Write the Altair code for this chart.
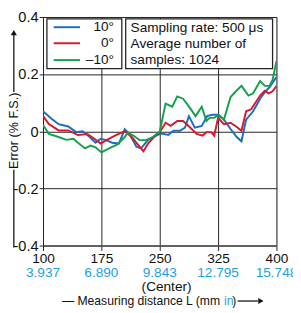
import altair as alt
import pandas as pd

# ---- data ----
blue_x = [100, 111, 120, 132.5, 142.5, 151, 160, 167.5, 174, 180, 189, 197.5, 205, 211, 220, 226, 235, 242.5, 250, 255,
          261, 267.5, 276, 282.5, 287.5, 295, 304, 311, 317.5, 324, 332.5, 341, 349, 355, 361, 370, 379, 385, 391, 397.5, 400]
blue_y = [0.07, 0.044, 0.025, 0.017, -0.003, 0, -0.02, -0.04, -0.026, -0.03, -0.04, -0.043, 0.007, -0.009, -0.054,
          -0.06, -0.03, -0.02, -0.009, -0.009, -0.013, 0.002, 0.002, 0.013, 0.053, 0.013, 0.019, 0.053, 0.058, 0.058,
          0.041, 0.008, -0.02, -0.035, 0.041, 0.07, 0.114, 0.137, 0.154, 0.18, 0.19]

red_x = [100, 107.5, 120, 132.5, 145, 157.5, 166, 174, 185, 195, 205, 214, 222.5, 229, 235, 242.5, 250, 257.5, 264,
         272.5, 280, 289, 297.5, 305, 310, 316, 320, 325, 332.5, 341, 349, 355, 361, 367.5, 379, 385, 390, 395, 400]
red_y = [0.054, 0.025, 0.003, 0.003, -0.013, -0.01, -0.026, -0.043, -0.026, -0.012, 0.0, -0.02, -0.048, -0.07, -0.043,
         -0.02, -0.003, 0.03, 0.019, 0.036, 0.036, 0.013, -0.009, -0.015, -0.003, -0.003, -0.015, 0.047, 0.025, 0.03,
         0.015, 0.002, 0.07, 0.077, 0.125, 0.142, 0.133, 0.14, 0.158]

green_x = [100, 107.5, 120, 130, 139, 145, 154, 161, 167.5, 175, 185, 195, 205, 209, 216, 224, 232.5, 241, 250, 257.5,
           266, 272.5, 280, 289, 296, 304, 310, 314, 320, 326, 332.5, 341, 348, 355, 364, 370, 379, 385, 391, 395, 400]
green_y = [0.022, -0.009, -0.02, -0.03, -0.026, -0.04, -0.06, -0.05, -0.056, -0.074, -0.06, -0.047, -0.02, -0.005,
           -0.015, -0.031, -0.031, -0.02, -0.001, 0.097, 0.086, 0.122, 0.114, 0.081, 0.053, 0.086, 0.036, 0.047, 0.047,
           0.058, 0.041, 0.12, 0.14, 0.159, 0.125, 0.133, 0.176, 0.159, 0.159, 0.18, 0.245]

series_names = ["10°", "0°", "–10°"]
series_colors = ["#1a6dc0", "#d7192c", "#14a04c"]

mm_ticks = [100, 175, 250, 325, 400]
inch_labels = ["3.937", "6.890", "9.843", "12.795", "15.748"]
y_ticks = [-0.4, -0.2, 0, 0.2, 0.4]

info_lines = ["Sampling rate: 500 μs", "Average number of", "samples: 1024"]

# ---- tables ----
rows = []
for name, xs, ys in zip(series_names, [blue_x, red_x, green_x], [blue_y, red_y, green_y]):
    for i, (xv, yv) in enumerate(zip(xs, ys)):
        rows.append({"series": name, "x": xv, "y": yv, "order": i})
df = pd.DataFrame(rows)

W, H = 240, 235
FONT = "Liberation Sans"

xscale = alt.Scale(domain=[100, 400], nice=False, zero=False)
yscale = alt.Scale(domain=[-0.4, 0.4], nice=False, zero=False)
cscale = alt.Scale(domain=series_names, range=series_colors)

lines = alt.Chart(df).mark_line(strokeWidth=2, clip=True).encode(
    x=alt.X("x:Q", scale=xscale, axis=alt.Axis(
        values=mm_ticks, format="d", title=None, grid=True, gridColor="#222", gridWidth=1,
        domainColor="#555", domainWidth=1.5, tickColor="#222", tickSize=5, labelPadding=1,
        labelFlush=False, labelOverlap=False,
        labelFontSize=14, labelColor="#111", labelFont=FONT)),
    y=alt.Y("y:Q", scale=yscale, axis=alt.Axis(
        values=y_ticks, title=None, grid=True, gridColor="#222", gridWidth=1,
        domainColor="#222", tickColor="#222", tickSize=4, labelPadding=1,
        labelFlush=False, labelOverlap=False,
        labelFontSize=15, labelColor="#111", labelFont=FONT,
        labelExpr="datum.value == 0 ? '0' : (datum.value < 0 ? '-' + format(-datum.value, '.1f') : format(datum.value, '.1f'))")),
    color=alt.Color("series:N", scale=cscale, legend=None),
    order="order:Q",
    detail="series:N",
)

# inch labels under mm labels
inch_df = pd.DataFrame({"x": mm_ticks, "lab": inch_labels})
inch = alt.Chart(inch_df).mark_text(fontSize=14, font=FONT, color="#1ea0e6", baseline="middle", align="center").encode(
    x=alt.X("x:Q", scale=xscale), y=alt.value(H + 28.5), text="lab:N")

one = alt.Data(values=[{}])

def txt(s, x, y, **kw):
    return alt.Chart(one).mark_text(text=s, font=FONT, **kw).encode(x=alt.value(x), y=alt.value(y))

def rule(x1, y1, x2, y2, color="#111", w=1.3):
    return alt.Chart(one).mark_rule(color=color, strokeWidth=w).encode(
        x=alt.value(x1), y=alt.value(y1), x2=alt.value(x2), y2=alt.value(y2))

# legend box
leg_box = alt.Chart(one).mark_rect(fill="white", stroke="#222", strokeWidth=1.3).encode(
    x=alt.value(4), x2=alt.value(81), y=alt.value(2), y2=alt.value(53))
leg_rows = [10.5, 27, 44.3]
leg_df = pd.DataFrame({"series": series_names, "yy": leg_rows, "x1": [11] * 3, "x2": [38] * 3, "tx": [73] * 3})
leg_lines = alt.Chart(leg_df).mark_rule(strokeWidth=2).encode(
    x=alt.X("x1:Q", scale=None), x2="x2:Q", y=alt.Y("yy:Q", scale=None),
    color=alt.Color("series:N", scale=cscale, legend=None))
leg_text = alt.Chart(leg_df).mark_text(font=FONT, fontSize=14, align="right", baseline="middle", color="#111").encode(
    x=alt.X("tx:Q", scale=None), y=alt.Y("yy:Q", scale=None), text="series:N")

# info box
info_box = alt.Chart(one).mark_rect(fill="white", stroke="#222", strokeWidth=1.3).encode(
    x=alt.value(85), x2=alt.value(236), y=alt.value(2), y2=alt.value(53))
info_df = pd.DataFrame({"t": info_lines, "yy": [11, 27.5, 44], "tx": [90] * 3})
info_text = alt.Chart(info_df).mark_text(font=FONT, fontSize=14, align="left", baseline="middle", color="#111").encode(
    x=alt.X("tx:Q", scale=None), y=alt.Y("yy:Q", scale=None), text="t:N")

# y title with arrow
YX = -30
ytitle = txt("Error (% F.S.)", YX, 117, angle=270, fontSize=13, align="center", baseline="middle", color="#111")
y_up = rule(YX, 18, YX, 77)
y_head = alt.Chart(one).mark_point(shape="triangle-up", filled=True, color="#111", size=40, opacity=1).encode(
    x=alt.value(YX), y=alt.value(16))
y_low = rule(YX, 157, YX, 237)

# x titles
TY = H + 57
center = txt("(Center)", 127, H + 42.5, fontSize=14, align="center", baseline="middle", color="#111")
xt1 = txt("— Measuring distance L (mm", 182, TY, fontSize=12.5, align="right", baseline="middle", color="#111")
xt2 = txt("in", 186, TY, fontSize=12.5, align="left", baseline="middle", color="#1ea0e6")
xt3 = txt(")", 194.5, TY, fontSize=12.5, align="left", baseline="middle", color="#111")
x_arrow = rule(200, TY, 221, TY)
x_head = alt.Chart(one).mark_point(shape="triangle-right", filled=True, color="#111", size=40, opacity=1).encode(
    x=alt.value(224), y=alt.value(TY))

chart = alt.layer(
    lines, inch, leg_box, leg_lines, leg_text, info_box, info_text,
    ytitle, y_up, y_head, y_low, center, xt1, xt2, xt3, x_arrow, x_head,
).properties(
    width=W, height=H, autosize=alt.AutoSizeParams(type="none"),
    padding={"left": 36, "top": 5, "right": 17, "bottom": 63},
).configure_view(stroke=None).configure(background="white")

chart.save("out.html", embed_options={"renderer": "svg", "actions": False})
